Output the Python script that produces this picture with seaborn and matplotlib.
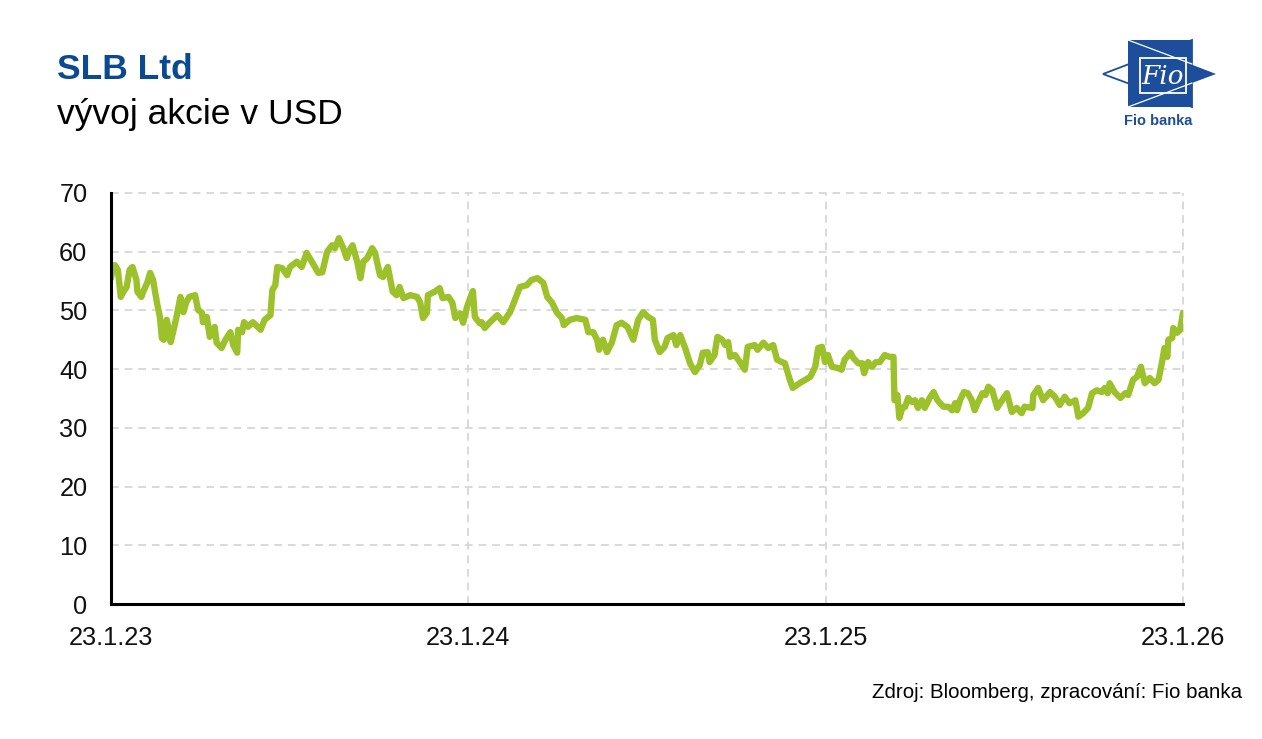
import numpy as np
import pandas as pd
import matplotlib
matplotlib.use("Agg")
import matplotlib.pyplot as plt
import seaborn as sns
from matplotlib.patches import Polygon, Rectangle
from matplotlib.lines import Line2D

# ---------------- data ----------------
START = "2023-01-23"
DAY_OFFSETS = [
    0, 2, 4, 7, 10, 12, 16, 19, 22, 26,
    27, 31, 33, 37, 40, 43, 47, 50, 52, 54,
    57, 59, 61, 64, 67, 71, 74, 77, 80, 86,
    89, 93, 94, 98, 101, 106, 108, 113, 117, 122,
    125, 129, 130, 134, 136, 140, 145, 150, 153, 157,
    163, 165, 168, 170, 175, 180, 183, 190, 195, 200,
    206, 212, 216, 221, 226, 229, 233, 237, 241, 244,
    247, 252, 255, 258, 262, 267, 270, 275, 278, 283,
    288, 292, 295, 299, 306, 313, 316, 319, 323, 324,
    331, 336, 339, 345, 349, 352, 357, 360, 364, 367,
    370, 372, 377, 379, 382, 387, 395, 401, 408, 413,
    418, 425, 430, 436, 442, 446, 451, 456, 461, 463,
    469, 476, 485, 488, 493, 497, 499, 503, 507, 512,
    517, 522, 528, 534, 539, 544, 549, 554, 556, 561,
    566, 569, 575, 578, 582, 587, 592, 597, 602, 605,
    610, 612, 617, 620, 625, 628, 631, 633, 638, 643,
    648, 651, 658, 661, 667, 672, 677, 681, 686, 689,
    694, 697, 704, 710, 715, 720, 723, 727, 730, 733,
    737, 743, 747, 750, 756, 759, 764, 768, 770, 774,
    778, 782, 786, 791, 796, 800, 801, 804, 806, 809,
    812, 815, 819, 822, 825, 829, 832, 837, 841, 845,
    851, 856, 860, 863, 865, 868, 872, 876, 880, 883,
    886, 891, 894, 897, 901, 906, 911, 916, 921, 926,
    931, 934, 942, 943, 948, 953, 960, 965, 970, 975,
    980, 986, 989, 994, 999, 1003, 1008, 1013, 1016, 1019,
    1021, 1026, 1032, 1037, 1040, 1045, 1049, 1053, 1057, 1062,
    1067, 1071, 1075, 1077, 1080, 1081, 1085, 1086, 1090, 1093, 1096,
]
PRICES = [
    55.5, 57.4, 57.7, 56.9, 52.3, 53.0, 54.0, 56.9, 57.4, 55.2,
    53.2, 52.3, 53.2, 54.7, 56.4, 55.2, 51.3, 48.9, 45.3, 45.0,
    48.4, 46.7, 44.6, 46.7, 48.9, 52.3, 49.7, 51.4, 52.3, 52.6,
    50.1, 49.6, 48.0, 48.9, 45.5, 47.2, 44.5, 43.6, 45.0, 46.3,
    44.1, 42.8, 46.7, 46.3, 48.0, 47.2, 48.0, 47.2, 46.7, 48.4,
    49.2, 53.5, 54.3, 57.4, 57.2, 56.0, 57.4, 58.3, 57.4, 59.8,
    58.1, 56.4, 56.5, 60.0, 61.1, 60.6, 62.3, 60.8, 58.9, 60.3,
    61.1, 58.1, 55.5, 58.3, 58.9, 60.6, 59.8, 56.0, 55.7, 57.4,
    53.2, 52.6, 54.0, 52.1, 52.6, 52.3, 51.4, 48.7, 49.6, 52.6,
    53.2, 53.8, 52.1, 52.3, 51.3, 48.7, 49.5, 47.9, 50.6, 52.0,
    53.3, 48.9, 47.8, 48.0, 47.0, 47.9, 49.2, 48.0, 49.7, 51.8,
    54.0, 54.3, 55.2, 55.5, 54.7, 52.3, 51.3, 49.6, 48.7, 47.5,
    48.4, 48.7, 48.4, 46.3, 46.3, 45.0, 43.3, 45.0, 42.9, 44.5,
    47.5, 47.9, 47.2, 45.0, 48.4, 49.7, 48.9, 48.4, 45.0, 42.9,
    43.8, 45.3, 45.8, 44.1, 45.8, 43.6, 41.0, 39.5, 40.7, 42.8,
    42.9, 41.2, 42.4, 45.5, 45.0, 44.1, 44.6, 42.1, 42.4, 41.2,
    39.9, 43.8, 44.1, 43.3, 44.5, 43.6, 44.1, 41.6, 41.2, 41.0,
    38.2, 36.8, 37.6, 38.2, 38.7, 40.4, 43.6, 43.8, 41.2, 42.4,
    40.4, 40.2, 39.9, 41.6, 42.8, 41.9, 41.0, 41.0, 39.3, 41.2,
    40.4, 41.2, 41.2, 42.4, 42.1, 42.1, 34.7, 35.6, 31.7, 33.4,
    33.6, 35.1, 34.4, 34.7, 33.4, 34.7, 33.4, 35.1, 36.1, 34.7,
    33.6, 33.6, 33.0, 34.2, 33.0, 34.7, 36.1, 35.9, 34.7, 33.0,
    34.2, 35.9, 35.6, 37.0, 36.4, 33.4, 34.7, 35.9, 32.7, 33.4,
    32.5, 33.6, 33.4, 35.6, 36.8, 34.7, 36.1, 35.3, 33.9, 35.3,
    34.2, 34.7, 31.9, 32.5, 33.4, 35.9, 36.4, 36.1, 36.8, 35.9,
    37.6, 36.1, 35.1, 35.9, 35.6, 38.2, 38.7, 40.4, 37.6, 38.5,
    37.6, 38.2, 41.6, 43.6, 42.1, 45.0, 45.3, 47.0, 46.2, 46.7, 49.6,
]
X_TICKS = ["2023-01-23", "2024-01-23", "2025-01-23", "2026-01-23"]
X_TICK_LABELS = ["23.1.23", "23.1.24", "23.1.25", "23.1.26"]
Y_TICKS = [0, 10, 20, 30, 40, 50, 60, 70]

TITLE = "SLB Ltd"
SUBTITLE = "vývoj akcie v USD"
SOURCE = "Zdroj: Bloomberg, zpracování: Fio banka"

# ---------------- style ----------------
sns.set_theme(style="white")
plt.rcParams["font.family"] = ["Liberation Sans", "DejaVu Sans"]

W, H = 1262, 739
LINE_COLOR = "#9DC12B"
TITLE_BLUE = "#0B4A92"
LOGO_BLUE = "#1D4E9C"

fig = plt.figure(figsize=(W / 100, H / 100), dpi=100)
fig.patch.set_facecolor("white")
ax = fig.add_axes([111 / W, 1 - 604 / H, (1183 - 111) / W, (604 - 193) / H])
ax.set_facecolor("white")

df = pd.DataFrame({
    "date": pd.Timestamp(START) + pd.to_timedelta(DAY_OFFSETS, unit="D"),
    "price": PRICES,
})
sns.lineplot(data=df, x="date", y="price", ax=ax, color=LINE_COLOR,
             linewidth=4.6, solid_joinstyle="round", solid_capstyle="round",
             zorder=3)

ax.set_xlim(pd.Timestamp(X_TICKS[0]), pd.Timestamp(X_TICKS[-1]))
ax.set_ylim(0, 70)
ax.set_xticks(pd.to_datetime(X_TICKS))
ax.set_xticklabels(X_TICK_LABELS)
ax.set_yticks(Y_TICKS)
ax.set_yticklabels([str(v) for v in Y_TICKS])
ax.set_xlabel("")
ax.set_ylabel("")

ax.grid(True, color="#D9D9D9", linestyle=(0, (4, 3)), linewidth=1.4)
ax.set_axisbelow(True)
for gl in ax.get_xgridlines() + ax.get_ygridlines():
    gl.set_clip_on(False)

for s in ["top", "right"]:
    ax.spines[s].set_visible(False)
for s in ["left", "bottom"]:
    ax.spines[s].set_color("black")
    ax.spines[s].set_linewidth(2.2)
    ax.spines[s].set_zorder(4)

ax.tick_params(axis="both", length=0, labelsize=18.3, labelcolor="#111111")
ax.tick_params(axis="x", pad=16)
ax.tick_params(axis="y", pad=17)

# ---------------- texts ----------------
def fx(x):
    return x / W

def fy(y):
    return 1 - y / H

fig.text(fx(57), fy(79), TITLE, fontsize=25.5, fontweight="bold",
         color=TITLE_BLUE, va="baseline", ha="left")
fig.text(fx(57), fy(124), SUBTITLE, fontsize=25.5, color="black",
         va="baseline", ha="left")
fig.text(fx(1242), fy(698), SOURCE, fontsize=14.8, color="black",
         va="baseline", ha="right")

# ---------------- logo ----------------
def pts(seq):
    return [(fx(x), fy(y)) for x, y in seq]

tf = fig.transFigure
fig.patches.append(Polygon(pts([(1192, 40), (1192, 107), (1103, 74)]),
                           closed=True, facecolor="white", edgecolor=LOGO_BLUE,
                           linewidth=1.3, transform=tf, figure=fig))
fig.patches.append(Polygon(pts([(1128, 40), (1192, 40), (1192, 107), (1128, 107)]),
                           closed=True, facecolor=LOGO_BLUE, edgecolor="none",
                           transform=tf, figure=fig))
fig.patches.append(Polygon(pts([(1128, 40), (1128, 107), (1216, 74)]),
                           closed=True, facecolor=LOGO_BLUE, edgecolor="none",
                           transform=tf, figure=fig))
for (x0, y0), (x1, y1) in [((1128, 40), (1192, 64)), ((1128, 107), (1192, 83))]:
    fig.lines.append(Line2D([fx(x0), fx(x1)], [fy(y0), fy(y1)], color="white",
                            linewidth=0.9, transform=tf, figure=fig))
fig.patches.append(Rectangle((fx(1140), fy(93)), fx(1186) - fx(1140), fy(58) - fy(93),
                             facecolor=LOGO_BLUE, edgecolor="white", linewidth=1.3,
                             transform=tf, figure=fig))
fig.text(fx(1163), fy(77), "Fio", fontsize=19, color="white",
         family="DejaVu Serif", style="italic", ha="center", va="center")
fig.text(fx(1158), fy(125), "Fio banka", fontsize=10.5, fontweight="bold",
         color=LOGO_BLUE, ha="center", va="baseline")

fig.savefig("out.png", dpi=100, facecolor="white")
